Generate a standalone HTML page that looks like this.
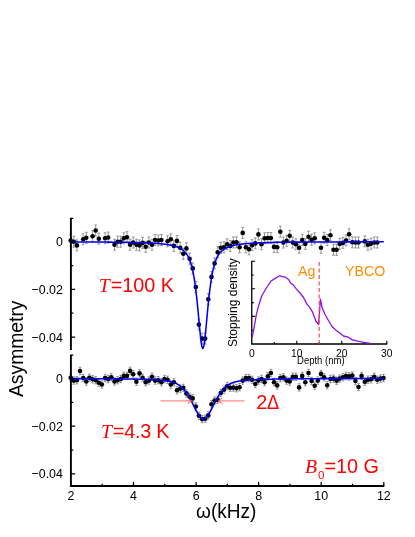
<!DOCTYPE html><html><head><meta charset="utf-8"><title>fig</title><style>
html,body{margin:0;padding:0;background:#fff}
#c{will-change:transform;position:relative;width:415px;height:537px;overflow:hidden;background:#fff;font-family:"Liberation Sans",sans-serif;color:#000}
.t{position:absolute;white-space:nowrap;line-height:1}
.yl{font-size:12.4px;text-align:right;width:44px;left:18.9px;transform:scaleY(1.04)}
.xl{font-size:12.4px;text-align:center;width:40px;transform:scaleY(1.04)}
.il{font-size:10.3px;text-align:center;width:30px}
.r{color:#ff0000;font-size:19.8px;letter-spacing:0px;-webkit-text-stroke:0}
.r i{font-family:"Liberation Serif",serif;font-style:italic;margin-right:1px}
.o{color:#ff8c00;font-size:14.7px;transform-origin:0 50%;transform:scaleX(0.965)}
</style></head><body><div id="c">
<svg width="415" height="537" viewBox="0 0 415 537" style="position:absolute;left:0;top:0">
<rect width="415" height="537" fill="#fff"/>
<g fill="#000">
<path d="M70.7,235.0V246.0M69.2,235.0h2.8M69.2,246.0h2.8M73.8,236.2V247.2M72.4,236.2h2.8M72.4,247.2h2.8M76.9,239.9V250.9M75.5,239.9h2.8M75.5,250.9h2.8M83.2,233.8V244.8M81.8,233.8h2.8M81.8,244.8h2.8M86.3,232.3V243.3M84.9,232.3h2.8M84.9,243.3h2.8M92.6,230.7V241.7M91.2,230.7h2.8M91.2,241.7h2.8M95.7,225.0V236.0M94.3,225.0h2.8M94.3,236.0h2.8M98.8,233.2V244.2M97.4,233.2h2.8M97.4,244.2h2.8M105.1,232.8V243.8M103.7,232.8h2.8M103.7,243.8h2.8M108.2,232.0V243.0M106.8,232.0h2.8M106.8,243.0h2.8M114.5,239.2V250.2M113.1,239.2h2.8M113.1,250.2h2.8M117.6,236.2V247.2M116.2,236.2h2.8M116.2,247.2h2.8M120.7,236.2V247.2M119.3,236.2h2.8M119.3,247.2h2.8M123.8,232.8V243.8M122.4,232.8h2.8M122.4,243.8h2.8M127.0,231.7V242.7M125.6,231.7h2.8M125.6,242.7h2.8M130.1,239.2V250.2M128.7,239.2h2.8M128.7,250.2h2.8M133.2,237.0V248.0M131.8,237.0h2.8M131.8,248.0h2.8M136.4,239.2V250.2M135.0,239.2h2.8M135.0,250.2h2.8M139.5,239.9V250.9M138.1,239.9h2.8M138.1,250.9h2.8M142.6,237.4V248.4M141.2,237.4h2.8M141.2,248.4h2.8M145.7,241.3V252.3M144.3,241.3h2.8M144.3,252.3h2.8M148.9,237.0V248.0M147.5,237.0h2.8M147.5,248.0h2.8M152.0,239.2V250.2M150.6,239.2h2.8M150.6,250.2h2.8M155.1,234.5V245.5M153.7,234.5h2.8M153.7,245.5h2.8M158.3,235.0V246.0M156.9,235.0h2.8M156.9,246.0h2.8M161.4,234.5V245.5M160.0,234.5h2.8M160.0,245.5h2.8M167.6,235.8V246.8M166.2,235.8h2.8M166.2,246.8h2.8M170.8,233.8V244.8M169.4,233.8h2.8M169.4,244.8h2.8M173.9,240.4V251.4M172.5,240.4h2.8M172.5,251.4h2.8M177.0,235.4V246.4M175.6,235.4h2.8M175.6,246.4h2.8M180.2,242.2V253.2M178.8,242.2h2.8M178.8,253.2h2.8M183.3,248.3V259.4M181.9,248.3h2.8M181.9,259.4h2.8M186.4,242.9V253.9M185.0,242.9h2.8M185.0,253.9h2.8M189.6,253.2V264.2M188.2,253.2h2.8M188.2,264.2h2.8M192.7,262.9V273.9M191.3,262.9h2.8M191.3,273.9h2.8M195.8,281.6V292.6M194.4,281.6h2.8M194.4,292.6h2.8M198.9,319.1V330.1M197.5,319.1h2.8M197.5,330.1h2.8M202.1,333.1V344.1M200.7,333.1h2.8M200.7,344.1h2.8M205.2,333.1V344.1M203.8,333.1h2.8M203.8,344.1h2.8M208.3,293.7V304.7M206.9,293.7h2.8M206.9,304.7h2.8M211.5,271.4V282.4M210.1,271.4h2.8M210.1,282.4h2.8M214.6,257.9V268.9M213.2,257.9h2.8M213.2,268.9h2.8M217.7,246.7V257.6M216.3,246.7h2.8M216.3,257.6h2.8M220.8,242.2V253.2M219.4,242.2h2.8M219.4,253.2h2.8M224.0,241.8V252.8M222.6,241.8h2.8M222.6,252.8h2.8M227.1,238.8V249.8M225.7,238.8h2.8M225.7,249.8h2.8M230.2,240.4V251.4M228.8,240.4h2.8M228.8,251.4h2.8M233.4,237.0V248.0M232.0,237.0h2.8M232.0,248.0h2.8M236.5,236.8V247.8M235.1,236.8h2.8M235.1,247.8h2.8M239.6,241.8V252.8M238.2,241.8h2.8M238.2,252.8h2.8M242.7,227.4V238.4M241.3,227.4h2.8M241.3,238.4h2.8M245.9,241.8V252.8M244.5,241.8h2.8M244.5,252.8h2.8M249.0,243.8V254.8M247.6,243.8h2.8M247.6,254.8h2.8M252.1,239.7V250.7M250.7,239.7h2.8M250.7,250.7h2.8M255.3,237.9V248.9M253.9,237.9h2.8M253.9,248.9h2.8M258.4,228.9V239.9M257.0,228.9h2.8M257.0,239.9h2.8M261.5,238.8V249.8M260.1,238.8h2.8M260.1,249.8h2.8M264.6,232.8V243.8M263.2,232.8h2.8M263.2,243.8h2.8M267.8,232.5V243.5M266.4,232.5h2.8M266.4,243.5h2.8M270.9,232.5V243.5M269.5,232.5h2.8M269.5,243.5h2.8M274.0,241.4V252.4M272.6,241.4h2.8M272.6,252.4h2.8M277.2,241.7V252.7M275.8,241.7h2.8M275.8,252.7h2.8M280.3,226.2V237.2M278.9,226.2h2.8M278.9,237.2h2.8M283.4,237.0V248.0M282.0,237.0h2.8M282.0,248.0h2.8M286.6,235.4V246.4M285.2,235.4h2.8M285.2,246.4h2.8M289.7,230.3V241.3M288.3,230.3h2.8M288.3,241.3h2.8M292.8,237.0V248.0M291.4,237.0h2.8M291.4,248.0h2.8M295.9,238.8V249.8M294.5,238.8h2.8M294.5,249.8h2.8M299.1,242.2V253.2M297.7,242.2h2.8M297.7,253.2h2.8M302.2,234.5V245.5M300.8,234.5h2.8M300.8,245.5h2.8M305.3,238.4V249.4M303.9,238.4h2.8M303.9,249.4h2.8M308.5,231.2V242.2M307.1,231.2h2.8M307.1,242.2h2.8M311.6,234.2V245.2M310.2,234.2h2.8M310.2,245.2h2.8M314.7,232.8V243.8M313.3,232.8h2.8M313.3,243.8h2.8M321.0,242.2V253.2M319.6,242.2h2.8M319.6,253.2h2.8M324.1,232.3V243.3M322.7,232.3h2.8M322.7,243.3h2.8M327.2,234.5V245.5M325.8,234.5h2.8M325.8,245.5h2.8M330.4,229.8V240.8M329.0,229.8h2.8M329.0,240.8h2.8M333.5,244.3V255.3M332.1,244.3h2.8M332.1,255.3h2.8M336.6,244.3V255.3M335.2,244.3h2.8M335.2,255.3h2.8M339.7,238.4V249.4M338.3,238.4h2.8M338.3,249.4h2.8M342.9,237.4V248.4M341.5,237.4h2.8M341.5,248.4h2.8M346.0,235.0V246.0M344.6,235.0h2.8M344.6,246.0h2.8M349.1,228.7V239.7M347.7,228.7h2.8M347.7,239.7h2.8M352.3,236.8V247.8M350.9,236.8h2.8M350.9,247.8h2.8M355.4,237.0V248.0M354.0,237.0h2.8M354.0,248.0h2.8M358.5,237.0V248.0M357.1,237.0h2.8M357.1,248.0h2.8M364.8,235.9V246.9M363.4,235.9h2.8M363.4,246.9h2.8M367.9,239.2V250.2M366.5,239.2h2.8M366.5,250.2h2.8M371.0,238.2V249.2M369.6,238.2h2.8M369.6,249.2h2.8M374.2,237.0V248.0M372.8,237.0h2.8M372.8,248.0h2.8M377.3,237.0V248.0M375.9,237.0h2.8M375.9,248.0h2.8" stroke="#666" stroke-width="0.65" fill="none"/>
<circle cx="70.7" cy="240.5" r="2.3"/>
<circle cx="73.8" cy="241.7" r="2.3"/>
<circle cx="76.9" cy="245.4" r="2.3"/>
<circle cx="83.2" cy="239.2" r="2.3"/>
<circle cx="86.3" cy="237.8" r="2.3"/>
<circle cx="92.6" cy="236.2" r="2.3"/>
<circle cx="95.7" cy="230.5" r="2.3"/>
<circle cx="98.8" cy="238.8" r="2.3"/>
<circle cx="105.1" cy="238.3" r="2.3"/>
<circle cx="108.2" cy="237.5" r="2.3"/>
<circle cx="114.5" cy="244.8" r="2.3"/>
<circle cx="117.6" cy="241.8" r="2.3"/>
<circle cx="120.7" cy="241.8" r="2.3"/>
<circle cx="123.8" cy="238.3" r="2.3"/>
<circle cx="127.0" cy="237.2" r="2.3"/>
<circle cx="130.1" cy="244.8" r="2.3"/>
<circle cx="133.2" cy="242.5" r="2.3"/>
<circle cx="136.4" cy="244.8" r="2.3"/>
<circle cx="139.5" cy="245.4" r="2.3"/>
<circle cx="142.6" cy="242.9" r="2.3"/>
<circle cx="145.7" cy="246.8" r="2.3"/>
<circle cx="148.9" cy="242.5" r="2.3"/>
<circle cx="152.0" cy="244.7" r="2.3"/>
<circle cx="155.1" cy="240.0" r="2.3"/>
<circle cx="158.3" cy="240.5" r="2.3"/>
<circle cx="161.4" cy="240.0" r="2.3"/>
<circle cx="167.6" cy="241.2" r="2.3"/>
<circle cx="170.8" cy="239.2" r="2.3"/>
<circle cx="173.9" cy="245.9" r="2.3"/>
<circle cx="177.0" cy="240.9" r="2.3"/>
<circle cx="180.2" cy="247.7" r="2.3"/>
<circle cx="183.3" cy="253.8" r="2.3"/>
<circle cx="186.4" cy="248.4" r="2.3"/>
<circle cx="189.6" cy="258.7" r="2.3"/>
<circle cx="192.7" cy="268.4" r="2.3"/>
<circle cx="195.8" cy="287.1" r="2.3"/>
<circle cx="198.9" cy="324.6" r="2.3"/>
<circle cx="202.1" cy="338.6" r="2.3"/>
<circle cx="205.2" cy="338.6" r="2.3"/>
<circle cx="208.3" cy="299.2" r="2.3"/>
<circle cx="211.5" cy="276.9" r="2.3"/>
<circle cx="214.6" cy="263.4" r="2.3"/>
<circle cx="217.7" cy="252.2" r="2.3"/>
<circle cx="220.8" cy="247.7" r="2.3"/>
<circle cx="224.0" cy="247.3" r="2.3"/>
<circle cx="227.1" cy="244.2" r="2.3"/>
<circle cx="230.2" cy="245.9" r="2.3"/>
<circle cx="233.4" cy="242.5" r="2.3"/>
<circle cx="236.5" cy="242.2" r="2.3"/>
<circle cx="239.6" cy="247.3" r="2.3"/>
<circle cx="242.7" cy="232.9" r="2.3"/>
<circle cx="245.9" cy="247.3" r="2.3"/>
<circle cx="249.0" cy="249.3" r="2.3"/>
<circle cx="252.1" cy="245.2" r="2.3"/>
<circle cx="255.3" cy="243.4" r="2.3"/>
<circle cx="258.4" cy="234.4" r="2.3"/>
<circle cx="261.5" cy="244.2" r="2.3"/>
<circle cx="264.6" cy="238.3" r="2.3"/>
<circle cx="267.8" cy="238.0" r="2.3"/>
<circle cx="270.9" cy="238.0" r="2.3"/>
<circle cx="274.0" cy="246.9" r="2.3"/>
<circle cx="277.2" cy="247.2" r="2.3"/>
<circle cx="280.3" cy="231.7" r="2.3"/>
<circle cx="283.4" cy="242.5" r="2.3"/>
<circle cx="286.6" cy="240.9" r="2.3"/>
<circle cx="289.7" cy="235.8" r="2.3"/>
<circle cx="292.8" cy="242.5" r="2.3"/>
<circle cx="295.9" cy="244.2" r="2.3"/>
<circle cx="299.1" cy="247.7" r="2.3"/>
<circle cx="302.2" cy="240.0" r="2.3"/>
<circle cx="305.3" cy="243.9" r="2.3"/>
<circle cx="308.5" cy="236.7" r="2.3"/>
<circle cx="311.6" cy="239.8" r="2.3"/>
<circle cx="314.7" cy="238.3" r="2.3"/>
<circle cx="321.0" cy="247.7" r="2.3"/>
<circle cx="324.1" cy="237.8" r="2.3"/>
<circle cx="327.2" cy="240.0" r="2.3"/>
<circle cx="330.4" cy="235.3" r="2.3"/>
<circle cx="333.5" cy="249.8" r="2.3"/>
<circle cx="336.6" cy="249.8" r="2.3"/>
<circle cx="339.7" cy="243.9" r="2.3"/>
<circle cx="342.9" cy="242.9" r="2.3"/>
<circle cx="346.0" cy="240.5" r="2.3"/>
<circle cx="349.1" cy="234.2" r="2.3"/>
<circle cx="352.3" cy="242.2" r="2.3"/>
<circle cx="355.4" cy="242.5" r="2.3"/>
<circle cx="358.5" cy="242.5" r="2.3"/>
<circle cx="364.8" cy="241.4" r="2.3"/>
<circle cx="367.9" cy="244.8" r="2.3"/>
<circle cx="371.0" cy="243.8" r="2.3"/>
<circle cx="374.2" cy="242.5" r="2.3"/>
<circle cx="377.3" cy="242.5" r="2.3"/>
<path d="M70.7,374.1V381.4M69.2,374.1h2.8M69.2,381.4h2.8M73.8,376.9V384.2M72.4,376.9h2.8M72.4,384.2h2.8M76.9,376.6V383.9M75.5,376.6h2.8M75.5,383.9h2.8M80.0,367.3V374.7M78.6,367.3h2.8M78.6,374.7h2.8M83.2,374.4V381.8M81.8,374.4h2.8M81.8,381.8h2.8M86.3,377.8V385.2M84.9,377.8h2.8M84.9,385.2h2.8M89.4,374.1V381.4M88.0,374.1h2.8M88.0,381.4h2.8M92.6,375.6V382.9M91.2,375.6h2.8M91.2,382.9h2.8M95.7,376.6V383.9M94.3,376.6h2.8M94.3,383.9h2.8M98.8,379.1V386.4M97.4,379.1h2.8M97.4,386.4h2.8M101.9,380.8V388.2M100.5,380.8h2.8M100.5,388.2h2.8M105.1,374.4V381.8M103.7,374.4h2.8M103.7,381.8h2.8M108.2,375.4V382.8M106.8,375.4h2.8M106.8,382.8h2.8M111.3,373.6V380.9M109.9,373.6h2.8M109.9,380.9h2.8M114.5,377.8V385.2M113.1,377.8h2.8M113.1,385.2h2.8M117.6,376.6V383.9M116.2,376.6h2.8M116.2,383.9h2.8M120.7,375.3V382.7M119.3,375.3h2.8M119.3,382.7h2.8M123.8,372.2V379.6M122.4,372.2h2.8M122.4,379.6h2.8M127.0,372.2V379.6M125.6,372.2h2.8M125.6,379.6h2.8M130.1,367.2V374.6M128.7,367.2h2.8M128.7,374.6h2.8M133.2,370.5V377.9M131.8,370.5h2.8M131.8,377.9h2.8M136.4,378.1V385.4M135.0,378.1h2.8M135.0,385.4h2.8M139.5,369.7V377.1M138.1,369.7h2.8M138.1,377.1h2.8M142.6,374.1V381.4M141.2,374.1h2.8M141.2,381.4h2.8M145.7,378.6V385.9M144.3,378.6h2.8M144.3,385.9h2.8M148.9,376.9V384.2M147.5,376.9h2.8M147.5,384.2h2.8M152.0,373.1V380.4M150.6,373.1h2.8M150.6,380.4h2.8M155.1,376.9V384.2M153.7,376.9h2.8M153.7,384.2h2.8M158.3,376.6V383.9M156.9,376.6h2.8M156.9,383.9h2.8M161.4,378.6V385.9M160.0,378.6h2.8M160.0,385.9h2.8M164.5,375.3V382.7M163.1,375.3h2.8M163.1,382.7h2.8M167.6,376.1V383.4M166.2,376.1h2.8M166.2,383.4h2.8M170.8,380.8V388.2M169.4,380.8h2.8M169.4,388.2h2.8M173.9,378.6V385.9M172.5,378.6h2.8M172.5,385.9h2.8M177.0,386.5V393.9M175.6,386.5h2.8M175.6,393.9h2.8M180.2,385.0V392.4M178.8,385.0h2.8M178.8,392.4h2.8M183.3,384.2V391.6M181.9,384.2h2.8M181.9,391.6h2.8M186.4,389.7V397.1M185.0,389.7h2.8M185.0,397.1h2.8M189.6,393.1V400.4M188.2,393.1h2.8M188.2,400.4h2.8M192.7,394.7V402.1M191.3,394.7h2.8M191.3,402.1h2.8M195.8,402.8V410.2M194.4,402.8h2.8M194.4,410.2h2.8M198.9,412.1V419.4M197.5,412.1h2.8M197.5,419.4h2.8M202.1,415.4V422.8M200.7,415.4h2.8M200.7,422.8h2.8M205.2,415.1V422.4M203.8,415.1h2.8M203.8,422.4h2.8M208.3,411.7V419.1M206.9,411.7h2.8M206.9,419.1h2.8M211.5,400.6V407.9M210.1,400.6h2.8M210.1,407.9h2.8M214.6,396.9V404.2M213.2,396.9h2.8M213.2,404.2h2.8M217.7,396.2V403.6M216.3,396.2h2.8M216.3,403.6h2.8M220.8,389.3V396.7M219.4,389.3h2.8M219.4,396.7h2.8M224.0,386.0V393.4M222.6,386.0h2.8M222.6,393.4h2.8M227.1,382.5V389.9M225.7,382.5h2.8M225.7,389.9h2.8M230.2,384.0V391.4M228.8,384.0h2.8M228.8,391.4h2.8M233.4,383.9V391.2M232.0,383.9h2.8M232.0,391.2h2.8M236.5,384.6V391.9M235.1,384.6h2.8M235.1,391.9h2.8M239.6,383.5V390.9M238.2,383.5h2.8M238.2,390.9h2.8M242.7,376.9V384.2M241.3,376.9h2.8M241.3,384.2h2.8M245.9,374.4V381.8M244.5,374.4h2.8M244.5,381.8h2.8M249.0,374.4V381.8M247.6,374.4h2.8M247.6,381.8h2.8M252.1,376.1V383.4M250.7,376.1h2.8M250.7,383.4h2.8M255.3,380.3V387.7M253.9,380.3h2.8M253.9,387.7h2.8M258.4,376.9V384.2M257.0,376.9h2.8M257.0,384.2h2.8M261.5,375.3V382.7M260.1,375.3h2.8M260.1,382.7h2.8M264.6,378.6V385.9M263.2,378.6h2.8M263.2,385.9h2.8M267.8,372.7V380.1M266.4,372.7h2.8M266.4,380.1h2.8M270.9,369.3V376.7M269.5,369.3h2.8M269.5,376.7h2.8M274.0,378.6V385.9M272.6,378.6h2.8M272.6,385.9h2.8M277.2,381.7V389.1M275.8,381.7h2.8M275.8,389.1h2.8M280.3,374.4V381.8M278.9,374.4h2.8M278.9,381.8h2.8M283.4,373.6V380.9M282.0,373.6h2.8M282.0,380.9h2.8M286.6,376.9V384.2M285.2,376.9h2.8M285.2,384.2h2.8M289.7,377.8V385.2M288.3,377.8h2.8M288.3,385.2h2.8M292.8,373.1V380.4M291.4,373.1h2.8M291.4,380.4h2.8M295.9,373.1V380.4M294.5,373.1h2.8M294.5,380.4h2.8M299.1,383.7V391.1M297.7,383.7h2.8M297.7,391.1h2.8M302.2,372.2V379.6M300.8,372.2h2.8M300.8,379.6h2.8M305.3,378.6V385.9M303.9,378.6h2.8M303.9,385.9h2.8M308.5,369.3V376.7M307.1,369.3h2.8M307.1,376.7h2.8M311.6,377.3V384.7M310.2,377.3h2.8M310.2,384.7h2.8M314.7,382.0V389.4M313.3,382.0h2.8M313.3,389.4h2.8M317.8,376.9V384.2M316.4,376.9h2.8M316.4,384.2h2.8M321.0,370.2V377.6M319.6,370.2h2.8M319.6,377.6h2.8M324.1,373.6V380.9M322.7,373.6h2.8M322.7,380.9h2.8M327.2,381.5V388.9M325.8,381.5h2.8M325.8,388.9h2.8M330.4,375.3V382.7M329.0,375.3h2.8M329.0,382.7h2.8M333.5,374.9V382.2M332.1,374.9h2.8M332.1,382.2h2.8M336.6,377.1V384.4M335.2,377.1h2.8M335.2,384.4h2.8M339.7,374.9V382.2M338.3,374.9h2.8M338.3,382.2h2.8M342.9,373.6V380.9M341.5,373.6h2.8M341.5,380.9h2.8M346.0,372.3V379.7M344.6,372.3h2.8M344.6,379.7h2.8M349.1,372.7V380.1M347.7,372.7h2.8M347.7,380.1h2.8M352.3,371.9V379.2M350.9,371.9h2.8M350.9,379.2h2.8M355.4,377.3V384.7M354.0,377.3h2.8M354.0,384.7h2.8M358.5,383.3V390.7M357.1,383.3h2.8M357.1,390.7h2.8M361.6,372.2V379.6M360.2,372.2h2.8M360.2,379.6h2.8M364.8,378.1V385.4M363.4,378.1h2.8M363.4,385.4h2.8M367.9,376.1V383.4M366.5,376.1h2.8M366.5,383.4h2.8M371.0,375.6V382.9M369.6,375.6h2.8M369.6,382.9h2.8M374.2,373.1V380.4M372.8,373.1h2.8M372.8,380.4h2.8M377.3,376.1V383.4M375.9,376.1h2.8M375.9,383.4h2.8M380.4,374.9V382.2M379.0,374.9h2.8M379.0,382.2h2.8M383.5,374.4V381.8M382.1,374.4h2.8M382.1,381.8h2.8" stroke="#666" stroke-width="0.65" fill="none"/>
<circle cx="70.7" cy="377.8" r="2.3"/>
<circle cx="73.8" cy="380.6" r="2.3"/>
<circle cx="76.9" cy="380.2" r="2.3"/>
<circle cx="80.0" cy="371.0" r="2.3"/>
<circle cx="83.2" cy="378.1" r="2.3"/>
<circle cx="86.3" cy="381.5" r="2.3"/>
<circle cx="89.4" cy="377.8" r="2.3"/>
<circle cx="92.6" cy="379.2" r="2.3"/>
<circle cx="95.7" cy="380.2" r="2.3"/>
<circle cx="98.8" cy="382.8" r="2.3"/>
<circle cx="101.9" cy="384.5" r="2.3"/>
<circle cx="105.1" cy="378.1" r="2.3"/>
<circle cx="108.2" cy="379.1" r="2.3"/>
<circle cx="111.3" cy="377.2" r="2.3"/>
<circle cx="114.5" cy="381.5" r="2.3"/>
<circle cx="117.6" cy="380.2" r="2.3"/>
<circle cx="120.7" cy="379.0" r="2.3"/>
<circle cx="123.8" cy="375.9" r="2.3"/>
<circle cx="127.0" cy="375.9" r="2.3"/>
<circle cx="130.1" cy="370.9" r="2.3"/>
<circle cx="133.2" cy="374.2" r="2.3"/>
<circle cx="136.4" cy="381.8" r="2.3"/>
<circle cx="139.5" cy="373.4" r="2.3"/>
<circle cx="142.6" cy="377.8" r="2.3"/>
<circle cx="145.7" cy="382.2" r="2.3"/>
<circle cx="148.9" cy="380.6" r="2.3"/>
<circle cx="152.0" cy="376.8" r="2.3"/>
<circle cx="155.1" cy="380.6" r="2.3"/>
<circle cx="158.3" cy="380.2" r="2.3"/>
<circle cx="161.4" cy="382.2" r="2.3"/>
<circle cx="164.5" cy="379.0" r="2.3"/>
<circle cx="167.6" cy="379.8" r="2.3"/>
<circle cx="170.8" cy="384.5" r="2.3"/>
<circle cx="173.9" cy="382.2" r="2.3"/>
<circle cx="177.0" cy="390.2" r="2.3"/>
<circle cx="180.2" cy="388.7" r="2.3"/>
<circle cx="183.3" cy="387.9" r="2.3"/>
<circle cx="186.4" cy="393.4" r="2.3"/>
<circle cx="189.6" cy="396.8" r="2.3"/>
<circle cx="192.7" cy="398.4" r="2.3"/>
<circle cx="195.8" cy="406.5" r="2.3"/>
<circle cx="198.9" cy="415.8" r="2.3"/>
<circle cx="202.1" cy="419.1" r="2.3"/>
<circle cx="205.2" cy="418.8" r="2.3"/>
<circle cx="208.3" cy="415.4" r="2.3"/>
<circle cx="211.5" cy="404.2" r="2.3"/>
<circle cx="214.6" cy="400.6" r="2.3"/>
<circle cx="217.7" cy="399.9" r="2.3"/>
<circle cx="220.8" cy="393.0" r="2.3"/>
<circle cx="224.0" cy="389.7" r="2.3"/>
<circle cx="227.1" cy="386.2" r="2.3"/>
<circle cx="230.2" cy="387.7" r="2.3"/>
<circle cx="233.4" cy="387.6" r="2.3"/>
<circle cx="236.5" cy="388.2" r="2.3"/>
<circle cx="239.6" cy="387.2" r="2.3"/>
<circle cx="242.7" cy="380.6" r="2.3"/>
<circle cx="245.9" cy="378.1" r="2.3"/>
<circle cx="249.0" cy="378.1" r="2.3"/>
<circle cx="252.1" cy="379.8" r="2.3"/>
<circle cx="255.3" cy="384.0" r="2.3"/>
<circle cx="258.4" cy="380.6" r="2.3"/>
<circle cx="261.5" cy="379.0" r="2.3"/>
<circle cx="264.6" cy="382.2" r="2.3"/>
<circle cx="267.8" cy="376.4" r="2.3"/>
<circle cx="270.9" cy="373.0" r="2.3"/>
<circle cx="274.0" cy="382.2" r="2.3"/>
<circle cx="277.2" cy="385.4" r="2.3"/>
<circle cx="280.3" cy="378.1" r="2.3"/>
<circle cx="283.4" cy="377.2" r="2.3"/>
<circle cx="286.6" cy="380.6" r="2.3"/>
<circle cx="289.7" cy="381.5" r="2.3"/>
<circle cx="292.8" cy="376.8" r="2.3"/>
<circle cx="295.9" cy="376.8" r="2.3"/>
<circle cx="299.1" cy="387.4" r="2.3"/>
<circle cx="302.2" cy="375.9" r="2.3"/>
<circle cx="305.3" cy="382.2" r="2.3"/>
<circle cx="308.5" cy="373.0" r="2.3"/>
<circle cx="311.6" cy="381.0" r="2.3"/>
<circle cx="314.7" cy="385.7" r="2.3"/>
<circle cx="317.8" cy="380.6" r="2.3"/>
<circle cx="321.0" cy="373.9" r="2.3"/>
<circle cx="324.1" cy="377.2" r="2.3"/>
<circle cx="327.2" cy="385.2" r="2.3"/>
<circle cx="330.4" cy="379.0" r="2.3"/>
<circle cx="333.5" cy="378.6" r="2.3"/>
<circle cx="336.6" cy="380.8" r="2.3"/>
<circle cx="339.7" cy="378.6" r="2.3"/>
<circle cx="342.9" cy="377.2" r="2.3"/>
<circle cx="346.0" cy="376.0" r="2.3"/>
<circle cx="349.1" cy="376.4" r="2.3"/>
<circle cx="352.3" cy="375.6" r="2.3"/>
<circle cx="355.4" cy="381.0" r="2.3"/>
<circle cx="358.5" cy="387.0" r="2.3"/>
<circle cx="361.6" cy="375.9" r="2.3"/>
<circle cx="364.8" cy="381.8" r="2.3"/>
<circle cx="367.9" cy="379.8" r="2.3"/>
<circle cx="371.0" cy="379.2" r="2.3"/>
<circle cx="374.2" cy="376.8" r="2.3"/>
<circle cx="377.3" cy="379.8" r="2.3"/>
<circle cx="380.4" cy="378.6" r="2.3"/>
<circle cx="383.5" cy="378.1" r="2.3"/>
</g>
<path d="M70.8,241.91 L71.3,241.91 L71.8,241.92 L72.3,241.92 L72.8,241.92 L73.3,241.92 L73.8,241.92 L74.3,241.92 L74.8,241.93 L75.3,241.93 L75.8,241.93 L76.3,241.93 L76.8,241.93 L77.3,241.94 L77.8,241.94 L78.3,241.94 L78.8,241.94 L79.3,241.94 L79.8,241.94 L80.3,241.95 L80.8,241.95 L81.3,241.95 L81.8,241.95 L82.3,241.96 L82.8,241.96 L83.3,241.96 L83.8,241.96 L84.3,241.96 L84.8,241.97 L85.3,241.97 L85.8,241.97 L86.3,241.97 L86.8,241.98 L87.3,241.98 L87.8,241.98 L88.3,241.98 L88.8,241.98 L89.3,241.99 L89.8,241.99 L90.3,241.99 L90.8,242.00 L91.3,242.00 L91.8,242.00 L92.3,242.00 L92.8,242.01 L93.3,242.01 L93.8,242.01 L94.3,242.01 L94.8,242.02 L95.3,242.02 L95.8,242.02 L96.3,242.03 L96.8,242.03 L97.3,242.03 L97.8,242.04 L98.3,242.04 L98.8,242.04 L99.3,242.05 L99.8,242.05 L100.3,242.05 L100.8,242.06 L101.3,242.06 L101.8,242.06 L102.3,242.07 L102.8,242.07 L103.3,242.07 L103.8,242.08 L104.3,242.08 L104.8,242.09 L105.3,242.09 L105.8,242.09 L106.3,242.10 L106.8,242.10 L107.3,242.11 L107.8,242.11 L108.3,242.11 L108.8,242.12 L109.3,242.12 L109.8,242.13 L110.3,242.13 L110.8,242.14 L111.3,242.14 L111.8,242.15 L112.3,242.15 L112.8,242.16 L113.3,242.16 L113.8,242.17 L114.3,242.17 L114.8,242.18 L115.3,242.18 L115.8,242.19 L116.3,242.19 L116.8,242.20 L117.3,242.21 L117.8,242.21 L118.3,242.22 L118.8,242.22 L119.3,242.23 L119.8,242.24 L120.3,242.24 L120.8,242.25 L121.3,242.26 L121.8,242.26 L122.3,242.27 L122.8,242.28 L123.3,242.28 L123.8,242.29 L124.3,242.30 L124.8,242.31 L125.3,242.31 L125.8,242.32 L126.3,242.33 L126.8,242.34 L127.3,242.35 L127.8,242.36 L128.3,242.36 L128.8,242.37 L129.3,242.38 L129.8,242.39 L130.3,242.40 L130.8,242.41 L131.3,242.42 L131.8,242.43 L132.3,242.44 L132.8,242.45 L133.3,242.46 L133.8,242.47 L134.3,242.48 L134.8,242.50 L135.3,242.51 L135.8,242.52 L136.3,242.53 L136.8,242.54 L137.3,242.56 L137.8,242.57 L138.3,242.58 L138.8,242.60 L139.3,242.61 L139.8,242.63 L140.3,242.64 L140.8,242.66 L141.3,242.67 L141.8,242.69 L142.3,242.70 L142.8,242.72 L143.3,242.74 L143.8,242.75 L144.3,242.77 L144.8,242.79 L145.3,242.81 L145.8,242.83 L146.3,242.85 L146.8,242.87 L147.3,242.89 L147.8,242.91 L148.3,242.93 L148.8,242.96 L149.3,242.98 L149.8,243.00 L150.3,243.03 L150.8,243.05 L151.3,243.08 L151.8,243.11 L152.3,243.13 L152.8,243.16 L153.3,243.19 L153.8,243.22 L154.3,243.25 L154.8,243.28 L155.3,243.32 L155.8,243.35 L156.3,243.39 L156.8,243.42 L157.3,243.46 L157.8,243.50 L158.3,243.54 L158.8,243.58 L159.3,243.62 L159.8,243.67 L160.3,243.71 L160.8,243.76 L161.3,243.81 L161.8,243.86 L162.3,243.91 L162.8,243.96 L163.3,244.02 L163.8,244.08 L164.3,244.14 L164.8,244.20 L165.3,244.27 L165.8,244.33 L166.3,244.41 L166.8,244.48 L167.3,244.55 L167.8,244.63 L168.3,244.72 L168.8,244.80 L169.3,244.89 L169.8,244.99 L170.3,245.09 L170.8,245.19 L171.3,245.30 L171.8,245.41 L172.3,245.52 L172.8,245.65 L173.3,245.78 L173.8,245.91 L174.3,246.05 L174.8,246.20 L175.3,246.36 L175.8,246.52 L176.3,246.70 L176.8,246.88 L177.3,247.07 L177.8,247.28 L178.3,247.49 L178.8,247.72 L179.3,247.96 L179.8,248.22 L180.3,248.49 L180.8,248.78 L181.3,249.09 L181.8,249.42 L182.3,249.77 L182.8,250.14 L183.3,250.54 L183.8,250.98 L184.3,251.44 L184.8,251.94 L185.3,252.49 L185.8,253.08 L186.3,253.72 L186.8,254.42 L187.3,255.18 L187.8,256.02 L188.3,256.94 L188.8,257.95 L189.3,259.07 L189.8,260.30 L190.3,261.67 L190.8,263.18 L191.3,264.85 L191.8,266.69 L192.3,268.74 L192.8,270.99 L193.3,273.48 L193.8,276.21 L194.3,279.21 L194.8,282.50 L195.3,286.08 L195.8,289.97 L196.3,294.16 L196.8,298.66 L197.3,303.45 L197.8,308.49 L198.3,313.74 L198.8,319.12 L199.3,324.52 L199.8,329.80 L200.3,334.78 L200.8,339.28 L201.3,343.08 L201.8,345.97 L202.3,347.78 L202.8,348.40 L203.3,347.78 L203.8,345.97 L204.3,343.08 L204.8,339.28 L205.3,334.78 L205.8,329.80 L206.3,324.52 L206.8,319.12 L207.3,313.74 L207.8,308.49 L208.3,303.45 L208.8,298.66 L209.3,294.16 L209.8,289.97 L210.3,286.08 L210.8,282.50 L211.3,279.21 L211.8,276.21 L212.3,273.48 L212.8,270.99 L213.3,268.74 L213.8,266.69 L214.3,264.85 L214.8,263.18 L215.3,261.67 L215.8,260.30 L216.3,259.07 L216.8,257.95 L217.3,256.94 L217.8,256.02 L218.3,255.18 L218.8,254.42 L219.3,253.72 L219.8,253.08 L220.3,252.49 L220.8,251.94 L221.3,251.44 L221.8,250.98 L222.3,250.54 L222.8,250.14 L223.3,249.77 L223.8,249.42 L224.3,249.09 L224.8,248.78 L225.3,248.49 L225.8,248.22 L226.3,247.96 L226.8,247.72 L227.3,247.49 L227.8,247.28 L228.3,247.07 L228.8,246.88 L229.3,246.70 L229.8,246.52 L230.3,246.36 L230.8,246.20 L231.3,246.05 L231.8,245.91 L232.3,245.78 L232.8,245.65 L233.3,245.52 L233.8,245.41 L234.3,245.30 L234.8,245.19 L235.3,245.09 L235.8,244.99 L236.3,244.89 L236.8,244.80 L237.3,244.72 L237.8,244.63 L238.3,244.55 L238.8,244.48 L239.3,244.41 L239.8,244.33 L240.3,244.27 L240.8,244.20 L241.3,244.14 L241.8,244.08 L242.3,244.02 L242.8,243.96 L243.3,243.91 L243.8,243.86 L244.3,243.81 L244.8,243.76 L245.3,243.71 L245.8,243.67 L246.3,243.62 L246.8,243.58 L247.3,243.54 L247.8,243.50 L248.3,243.46 L248.8,243.42 L249.3,243.39 L249.8,243.35 L250.3,243.32 L250.8,243.28 L251.3,243.25 L251.8,243.22 L252.3,243.19 L252.8,243.16 L253.3,243.13 L253.8,243.11 L254.3,243.08 L254.8,243.05 L255.3,243.03 L255.8,243.00 L256.3,242.98 L256.8,242.96 L257.3,242.93 L257.8,242.91 L258.3,242.89 L258.8,242.87 L259.3,242.85 L259.8,242.83 L260.3,242.81 L260.8,242.79 L261.3,242.77 L261.8,242.75 L262.3,242.74 L262.8,242.72 L263.3,242.70 L263.8,242.69 L264.3,242.67 L264.8,242.66 L265.3,242.64 L265.8,242.63 L266.3,242.61 L266.8,242.60 L267.3,242.58 L267.8,242.57 L268.3,242.56 L268.8,242.54 L269.3,242.53 L269.8,242.52 L270.3,242.51 L270.8,242.50 L271.3,242.48 L271.8,242.47 L272.3,242.46 L272.8,242.45 L273.3,242.44 L273.8,242.43 L274.3,242.42 L274.8,242.41 L275.3,242.40 L275.8,242.39 L276.3,242.38 L276.8,242.37 L277.3,242.36 L277.8,242.36 L278.3,242.35 L278.8,242.34 L279.3,242.33 L279.8,242.32 L280.3,242.31 L280.8,242.31 L281.3,242.30 L281.8,242.29 L282.3,242.28 L282.8,242.28 L283.3,242.27 L283.8,242.26 L284.3,242.26 L284.8,242.25 L285.3,242.24 L285.8,242.24 L286.3,242.23 L286.8,242.22 L287.3,242.22 L287.8,242.21 L288.3,242.21 L288.8,242.20 L289.3,242.19 L289.8,242.19 L290.3,242.18 L290.8,242.18 L291.3,242.17 L291.8,242.17 L292.3,242.16 L292.8,242.16 L293.3,242.15 L293.8,242.15 L294.3,242.14 L294.8,242.14 L295.3,242.13 L295.8,242.13 L296.3,242.12 L296.8,242.12 L297.3,242.11 L297.8,242.11 L298.3,242.11 L298.8,242.10 L299.3,242.10 L299.8,242.09 L300.3,242.09 L300.8,242.09 L301.3,242.08 L301.8,242.08 L302.3,242.07 L302.8,242.07 L303.3,242.07 L303.8,242.06 L304.3,242.06 L304.8,242.06 L305.3,242.05 L305.8,242.05 L306.3,242.05 L306.8,242.04 L307.3,242.04 L307.8,242.04 L308.3,242.03 L308.8,242.03 L309.3,242.03 L309.8,242.02 L310.3,242.02 L310.8,242.02 L311.3,242.01 L311.8,242.01 L312.3,242.01 L312.8,242.01 L313.3,242.00 L313.8,242.00 L314.3,242.00 L314.8,242.00 L315.3,241.99 L315.8,241.99 L316.3,241.99 L316.8,241.98 L317.3,241.98 L317.8,241.98 L318.3,241.98 L318.8,241.98 L319.3,241.97 L319.8,241.97 L320.3,241.97 L320.8,241.97 L321.3,241.96 L321.8,241.96 L322.3,241.96 L322.8,241.96 L323.3,241.96 L323.8,241.95 L324.3,241.95 L324.8,241.95 L325.3,241.95 L325.8,241.94 L326.3,241.94 L326.8,241.94 L327.3,241.94 L327.8,241.94 L328.3,241.94 L328.8,241.93 L329.3,241.93 L329.8,241.93 L330.3,241.93 L330.8,241.93 L331.3,241.92 L331.8,241.92 L332.3,241.92 L332.8,241.92 L333.3,241.92 L333.8,241.92 L334.3,241.91 L334.8,241.91 L335.3,241.91 L335.8,241.91 L336.3,241.91 L336.8,241.91 L337.3,241.90 L337.8,241.90 L338.3,241.90 L338.8,241.90 L339.3,241.90 L339.8,241.90 L340.3,241.90 L340.8,241.89 L341.3,241.89 L341.8,241.89 L342.3,241.89 L342.8,241.89 L343.3,241.89 L343.8,241.89 L344.3,241.89 L344.8,241.88 L345.3,241.88 L345.8,241.88 L346.3,241.88 L346.8,241.88 L347.3,241.88 L347.8,241.88 L348.3,241.88 L348.8,241.87 L349.3,241.87 L349.8,241.87 L350.3,241.87 L350.8,241.87 L351.3,241.87 L351.8,241.87 L352.3,241.87 L352.8,241.86 L353.3,241.86 L353.8,241.86 L354.3,241.86 L354.8,241.86 L355.3,241.86 L355.8,241.86 L356.3,241.86 L356.8,241.86 L357.3,241.86 L357.8,241.85 L358.3,241.85 L358.8,241.85 L359.3,241.85 L359.8,241.85 L360.3,241.85 L360.8,241.85 L361.3,241.85 L361.8,241.85 L362.3,241.85 L362.8,241.84 L363.3,241.84 L363.8,241.84 L364.3,241.84 L364.8,241.84 L365.3,241.84 L365.8,241.84 L366.3,241.84 L366.8,241.84 L367.3,241.84 L367.8,241.84 L368.3,241.84 L368.8,241.83 L369.3,241.83 L369.8,241.83 L370.3,241.83 L370.8,241.83 L371.3,241.83 L371.8,241.83 L372.3,241.83 L372.8,241.83 L373.3,241.83 L373.8,241.83 L374.3,241.83 L374.8,241.83 L375.3,241.82 L375.8,241.82 L376.3,241.82 L376.8,241.82 L377.3,241.82 L377.8,241.82 L378.3,241.82 L378.8,241.82 L379.3,241.82 L379.8,241.82 L380.3,241.82 L380.8,241.82 L381.3,241.82 L381.8,241.82 L382.3,241.82 L382.8,241.81 L383.3,241.81 L383.8,241.81" stroke="#0000f0" stroke-width="1.55" fill="none" stroke-linejoin="round"/>
<path d="M70.8,378.60 L71.3,378.61 L71.8,378.61 L72.3,378.61 L72.8,378.61 L73.3,378.61 L73.8,378.61 L74.3,378.62 L74.8,378.62 L75.3,378.62 L75.8,378.62 L76.3,378.62 L76.8,378.62 L77.3,378.63 L77.8,378.63 L78.3,378.63 L78.8,378.63 L79.3,378.63 L79.8,378.64 L80.3,378.64 L80.8,378.64 L81.3,378.64 L81.8,378.64 L82.3,378.65 L82.8,378.65 L83.3,378.65 L83.8,378.65 L84.3,378.65 L84.8,378.66 L85.3,378.66 L85.8,378.66 L86.3,378.66 L86.8,378.66 L87.3,378.67 L87.8,378.67 L88.3,378.67 L88.8,378.67 L89.3,378.68 L89.8,378.68 L90.3,378.68 L90.8,378.68 L91.3,378.69 L91.8,378.69 L92.3,378.69 L92.8,378.69 L93.3,378.70 L93.8,378.70 L94.3,378.70 L94.8,378.70 L95.3,378.71 L95.8,378.71 L96.3,378.71 L96.8,378.72 L97.3,378.72 L97.8,378.72 L98.3,378.72 L98.8,378.73 L99.3,378.73 L99.8,378.73 L100.3,378.74 L100.8,378.74 L101.3,378.74 L101.8,378.75 L102.3,378.75 L102.8,378.75 L103.3,378.76 L103.8,378.76 L104.3,378.76 L104.8,378.77 L105.3,378.77 L105.8,378.77 L106.3,378.78 L106.8,378.78 L107.3,378.79 L107.8,378.79 L108.3,378.79 L108.8,378.80 L109.3,378.80 L109.8,378.81 L110.3,378.81 L110.8,378.82 L111.3,378.82 L111.8,378.82 L112.3,378.83 L112.8,378.83 L113.3,378.84 L113.8,378.84 L114.3,378.85 L114.8,378.85 L115.3,378.86 L115.8,378.86 L116.3,378.87 L116.8,378.87 L117.3,378.88 L117.8,378.88 L118.3,378.89 L118.8,378.90 L119.3,378.90 L119.8,378.91 L120.3,378.91 L120.8,378.92 L121.3,378.93 L121.8,378.93 L122.3,378.94 L122.8,378.94 L123.3,378.95 L123.8,378.96 L124.3,378.96 L124.8,378.97 L125.3,378.98 L125.8,378.99 L126.3,378.99 L126.8,379.00 L127.3,379.01 L127.8,379.02 L128.3,379.02 L128.8,379.03 L129.3,379.04 L129.8,379.05 L130.3,379.06 L130.8,379.07 L131.3,379.08 L131.8,379.09 L132.3,379.09 L132.8,379.10 L133.3,379.11 L133.8,379.12 L134.3,379.13 L134.8,379.14 L135.3,379.15 L135.8,379.17 L136.3,379.18 L136.8,379.19 L137.3,379.20 L137.8,379.21 L138.3,379.22 L138.8,379.23 L139.3,379.25 L139.8,379.26 L140.3,379.27 L140.8,379.29 L141.3,379.30 L141.8,379.31 L142.3,379.33 L142.8,379.34 L143.3,379.36 L143.8,379.37 L144.3,379.39 L144.8,379.41 L145.3,379.42 L145.8,379.44 L146.3,379.46 L146.8,379.47 L147.3,379.49 L147.8,379.51 L148.3,379.53 L148.8,379.55 L149.3,379.57 L149.8,379.59 L150.3,379.61 L150.8,379.63 L151.3,379.66 L151.8,379.68 L152.3,379.70 L152.8,379.73 L153.3,379.75 L153.8,379.78 L154.3,379.80 L154.8,379.83 L155.3,379.86 L155.8,379.89 L156.3,379.92 L156.8,379.95 L157.3,379.98 L157.8,380.01 L158.3,380.05 L158.8,380.08 L159.3,380.12 L159.8,380.16 L160.3,380.20 L160.8,380.24 L161.3,380.28 L161.8,380.33 L162.3,380.37 L162.8,380.42 L163.3,380.47 L163.8,380.52 L164.3,380.58 L164.8,380.64 L165.3,380.70 L165.8,380.76 L166.3,380.83 L166.8,380.90 L167.3,380.98 L167.8,381.06 L168.3,381.14 L168.8,381.23 L169.3,381.33 L169.8,381.43 L170.3,381.54 L170.8,381.65 L171.3,381.77 L171.8,381.90 L172.3,382.04 L172.8,382.19 L173.3,382.35 L173.8,382.52 L174.3,382.69 L174.8,382.89 L175.3,383.09 L175.8,383.31 L176.3,383.54 L176.8,383.79 L177.3,384.06 L177.8,384.34 L178.3,384.64 L178.8,384.96 L179.3,385.30 L179.8,385.66 L180.3,386.04 L180.8,386.44 L181.3,386.87 L181.8,387.32 L182.3,387.80 L182.8,388.30 L183.3,388.83 L183.8,389.38 L184.3,389.96 L184.8,390.57 L185.3,391.21 L185.8,391.88 L186.3,392.57 L186.8,393.29 L187.3,394.04 L187.8,394.82 L188.3,395.62 L188.8,396.45 L189.3,397.31 L189.8,398.19 L190.3,399.09 L190.8,400.01 L191.3,400.95 L191.8,401.91 L192.3,402.88 L192.8,403.86 L193.3,404.86 L193.8,405.85 L194.3,406.85 L194.8,407.85 L195.3,408.84 L195.8,409.82 L196.3,410.78 L196.8,411.72 L197.3,412.63 L197.8,413.50 L198.3,414.34 L198.8,415.12 L199.3,415.85 L199.8,416.52 L200.3,417.12 L200.8,417.65 L201.3,418.09 L201.8,418.45 L202.3,418.73 L202.8,418.91 L203.3,418.99 L203.8,418.98 L204.3,418.88 L204.8,418.68 L205.3,418.39 L205.8,418.01 L206.3,417.55 L206.8,417.01 L207.3,416.39 L207.8,415.71 L208.3,414.97 L208.8,414.17 L209.3,413.33 L209.8,412.45 L210.3,411.53 L210.8,410.59 L211.3,409.63 L211.8,408.64 L212.3,407.65 L212.8,406.65 L213.3,405.65 L213.8,404.66 L214.3,403.67 L214.8,402.68 L215.3,401.71 L215.8,400.76 L216.3,399.82 L216.8,398.90 L217.3,398.01 L217.8,397.13 L218.3,396.28 L218.8,395.46 L219.3,394.66 L219.8,393.89 L220.3,393.15 L220.8,392.43 L221.3,391.74 L221.8,391.08 L222.3,390.45 L222.8,389.85 L223.3,389.27 L223.8,388.72 L224.3,388.20 L224.8,387.70 L225.3,387.23 L225.8,386.78 L226.3,386.36 L226.8,385.96 L227.3,385.58 L227.8,385.23 L228.3,384.89 L228.8,384.58 L229.3,384.28 L229.8,384.00 L230.3,383.74 L230.8,383.50 L231.3,383.27 L231.8,383.05 L232.3,382.85 L232.8,382.66 L233.3,382.48 L233.8,382.31 L234.3,382.16 L234.8,382.01 L235.3,381.88 L235.8,381.75 L236.3,381.63 L236.8,381.51 L237.3,381.41 L237.8,381.31 L238.3,381.21 L238.8,381.12 L239.3,381.04 L239.8,380.96 L240.3,380.89 L240.8,380.82 L241.3,380.75 L241.8,380.69 L242.3,380.63 L242.8,380.57 L243.3,380.51 L243.8,380.46 L244.3,380.41 L244.8,380.36 L245.3,380.32 L245.8,380.27 L246.3,380.23 L246.8,380.19 L247.3,380.15 L247.8,380.11 L248.3,380.08 L248.8,380.04 L249.3,380.01 L249.8,379.97 L250.3,379.94 L250.8,379.91 L251.3,379.88 L251.8,379.85 L252.3,379.83 L252.8,379.80 L253.3,379.77 L253.8,379.75 L254.3,379.72 L254.8,379.70 L255.3,379.67 L255.8,379.65 L256.3,379.63 L256.8,379.61 L257.3,379.59 L257.8,379.57 L258.3,379.55 L258.8,379.53 L259.3,379.51 L259.8,379.49 L260.3,379.47 L260.8,379.45 L261.3,379.44 L261.8,379.42 L262.3,379.40 L262.8,379.39 L263.3,379.37 L263.8,379.36 L264.3,379.34 L264.8,379.33 L265.3,379.31 L265.8,379.30 L266.3,379.28 L266.8,379.27 L267.3,379.26 L267.8,379.24 L268.3,379.23 L268.8,379.22 L269.3,379.21 L269.8,379.20 L270.3,379.19 L270.8,379.17 L271.3,379.16 L271.8,379.15 L272.3,379.14 L272.8,379.13 L273.3,379.12 L273.8,379.11 L274.3,379.10 L274.8,379.09 L275.3,379.08 L275.8,379.07 L276.3,379.07 L276.8,379.06 L277.3,379.05 L277.8,379.04 L278.3,379.03 L278.8,379.02 L279.3,379.02 L279.8,379.01 L280.3,379.00 L280.8,378.99 L281.3,378.98 L281.8,378.98 L282.3,378.97 L282.8,378.96 L283.3,378.96 L283.8,378.95 L284.3,378.94 L284.8,378.94 L285.3,378.93 L285.8,378.92 L286.3,378.92 L286.8,378.91 L287.3,378.91 L287.8,378.90 L288.3,378.89 L288.8,378.89 L289.3,378.88 L289.8,378.88 L290.3,378.87 L290.8,378.87 L291.3,378.86 L291.8,378.86 L292.3,378.85 L292.8,378.85 L293.3,378.84 L293.8,378.84 L294.3,378.83 L294.8,378.83 L295.3,378.82 L295.8,378.82 L296.3,378.81 L296.8,378.81 L297.3,378.81 L297.8,378.80 L298.3,378.80 L298.8,378.79 L299.3,378.79 L299.8,378.79 L300.3,378.78 L300.8,378.78 L301.3,378.77 L301.8,378.77 L302.3,378.77 L302.8,378.76 L303.3,378.76 L303.8,378.76 L304.3,378.75 L304.8,378.75 L305.3,378.75 L305.8,378.74 L306.3,378.74 L306.8,378.74 L307.3,378.73 L307.8,378.73 L308.3,378.73 L308.8,378.72 L309.3,378.72 L309.8,378.72 L310.3,378.71 L310.8,378.71 L311.3,378.71 L311.8,378.71 L312.3,378.70 L312.8,378.70 L313.3,378.70 L313.8,378.70 L314.3,378.69 L314.8,378.69 L315.3,378.69 L315.8,378.68 L316.3,378.68 L316.8,378.68 L317.3,378.68 L317.8,378.68 L318.3,378.67 L318.8,378.67 L319.3,378.67 L319.8,378.67 L320.3,378.66 L320.8,378.66 L321.3,378.66 L321.8,378.66 L322.3,378.66 L322.8,378.65 L323.3,378.65 L323.8,378.65 L324.3,378.65 L324.8,378.64 L325.3,378.64 L325.8,378.64 L326.3,378.64 L326.8,378.64 L327.3,378.64 L327.8,378.63 L328.3,378.63 L328.8,378.63 L329.3,378.63 L329.8,378.63 L330.3,378.62 L330.8,378.62 L331.3,378.62 L331.8,378.62 L332.3,378.62 L332.8,378.62 L333.3,378.61 L333.8,378.61 L334.3,378.61 L334.8,378.61 L335.3,378.61 L335.8,378.61 L336.3,378.60 L336.8,378.60 L337.3,378.60 L337.8,378.60 L338.3,378.60 L338.8,378.60 L339.3,378.60 L339.8,378.59 L340.3,378.59 L340.8,378.59 L341.3,378.59 L341.8,378.59 L342.3,378.59 L342.8,378.59 L343.3,378.58 L343.8,378.58 L344.3,378.58 L344.8,378.58 L345.3,378.58 L345.8,378.58 L346.3,378.58 L346.8,378.58 L347.3,378.57 L347.8,378.57 L348.3,378.57 L348.8,378.57 L349.3,378.57 L349.8,378.57 L350.3,378.57 L350.8,378.57 L351.3,378.57 L351.8,378.56 L352.3,378.56 L352.8,378.56 L353.3,378.56 L353.8,378.56 L354.3,378.56 L354.8,378.56 L355.3,378.56 L355.8,378.56 L356.3,378.55 L356.8,378.55 L357.3,378.55 L357.8,378.55 L358.3,378.55 L358.8,378.55 L359.3,378.55 L359.8,378.55 L360.3,378.55 L360.8,378.55 L361.3,378.55 L361.8,378.54 L362.3,378.54 L362.8,378.54 L363.3,378.54 L363.8,378.54 L364.3,378.54 L364.8,378.54 L365.3,378.54 L365.8,378.54 L366.3,378.54 L366.8,378.54 L367.3,378.53 L367.8,378.53 L368.3,378.53 L368.8,378.53 L369.3,378.53 L369.8,378.53 L370.3,378.53 L370.8,378.53 L371.3,378.53 L371.8,378.53 L372.3,378.53 L372.8,378.53 L373.3,378.53 L373.8,378.52 L374.3,378.52 L374.8,378.52 L375.3,378.52 L375.8,378.52 L376.3,378.52 L376.8,378.52 L377.3,378.52 L377.8,378.52 L378.3,378.52 L378.8,378.52 L379.3,378.52 L379.8,378.52 L380.3,378.52 L380.8,378.52 L381.3,378.51 L381.8,378.51 L382.3,378.51 L382.8,378.51 L383.3,378.51 L383.8,378.51" stroke="#0000f0" stroke-width="1.55" fill="none" stroke-linejoin="round"/>
<g stroke="#000" fill="none">
<path d="M70.9,217.8V350" stroke-width="1.9"/>
<path d="M70.9,354.7V486.9" stroke-width="1.9"/>
<path d="M70.0,486.0H384.3" stroke-width="1.9"/>
<path d="M70.9,218.3h2.4M70.9,241.7h4.2M70.9,265.6h2.4M70.9,289.4h4.2M70.9,313.2h2.4M70.9,337.1h4.2M70.9,355.1h2.4M70.9,378.5h4.2M70.9,402.4h2.4M70.9,426.2h4.2M70.9,450.1h2.4M70.9,473.9h4.2M70.9,486.0v-4.0M102.2,486.0v-2.2M133.5,486.0v-4.0M164.8,486.0v-2.2M196.1,486.0v-4.0M227.3,486.0v-2.2M258.6,486.0v-4.0M289.9,486.0v-2.2M321.2,486.0v-4.0M352.5,486.0v-2.2M383.8,486.0v-4.0" stroke-width="1.25"/>
</g>
<g fill="none">
<path d="M160.5,400.9H191.5M244.6,400.9H218.3" stroke="#ff8c8c" stroke-width="1.2"/>
<path d="M187.6,398.2L192,400.9L187.6,403.6M222.3,398.2L217.9,400.9L222.3,403.6" stroke="#ff3030" stroke-width="0.8"/>
</g>
<g stroke="#000" fill="none">
<path d="M251.75,260.7V344.0H387.3" stroke-width="1.3"/>
<path d="M251.8,330.2h2.0M251.8,316.4h3.3M251.8,302.6h2.0M251.8,288.8h3.3M251.8,275.0h2.0M251.8,261.2h3.3M274.2,344.0v-2.0M296.8,344.0v-3.3M319.2,344.0v-2.0M341.8,344.0v-3.3M364.2,344.0v-2.0M386.8,344.0v-3.3" stroke-width="1.1"/>
</g>
<path d="M252.2,337.5 L254.0,328.2 L256.3,314.8 L258.9,304.7 L261.8,295.8 L266.3,288.0 L270.8,281.3 L275.2,278.4 L279.7,275.7 L282.6,276.8 L284.8,276.8 L288.6,279.5 L290.9,283.5 L293.1,284.6 L296.5,289.1 L300.0,293.0 L303.5,297.5 L307.1,304.4 L309.7,307.4 L312.4,311.8 L315.9,321.2 L318.5,324.2 L319.4,314.0 L320.4,299.2 L322.1,307.6 L324.8,314.0 L328.3,320.3 L331.9,326.5 L336.1,330.2 L339.8,333.1 L343.4,336.0 L348.2,337.2 L352.5,339.9 L357.8,341.1 L363.9,342.3 L370.6,343.3" stroke="#9410dc" stroke-width="1.3" fill="none" stroke-linejoin="round"/>
<path d="M319.2,344.0V261.2" stroke="#ff4040" stroke-width="1.1" stroke-dasharray="4.1 2.4" fill="none"/>
</svg>
<div class="t yl" style="top:236.1px">0</div>
<div class="t yl" style="top:283.8px">−0.02</div>
<div class="t yl" style="top:331.5px">−0.04</div>
<div class="t yl" style="top:372.9px">0</div>
<div class="t yl" style="top:420.6px">−0.02</div>
<div class="t yl" style="top:468.3px">−0.04</div>
<div class="t xl" style="left:50.9px;top:490.4px">2</div>
<div class="t xl" style="left:113.5px;top:490.4px">4</div>
<div class="t xl" style="left:176.1px;top:490.4px">6</div>
<div class="t xl" style="left:238.6px;top:490.4px">8</div>
<div class="t xl" style="left:301.2px;top:490.4px">10</div>
<div class="t xl" style="left:363.8px;top:490.4px">12</div>
<div class="t il" style="left:236.8px;top:348.8px">0</div>
<div class="t il" style="left:281.8px;top:348.8px">10</div>
<div class="t il" style="left:326.8px;top:348.8px">20</div>
<div class="t il" style="left:371.8px;top:348.8px">30</div>
<div class="t" style="font-size:10.3px;left:296.6px;top:355.7px;transform-origin:0 0;transform:scaleX(0.925)">Depth (nm)</div>
<div class="t" style="font-size:12px;left:227px;top:347px;transform-origin:0 0;transform:rotate(-90deg)">Stopping density</div>
<div class="t" style="font-size:19.6px;left:7.2px;top:397.3px;transform-origin:0 0;transform:rotate(-90deg) scaleX(0.985)">Asymmetry</div>
<div class="t" style="font-size:20.3px;left:196.3px;top:500.5px;transform-origin:0 0;transform:scaleX(0.94)">ω(kHz)</div>
<div class="t r" style="left:98.8px;top:275.6px"><i>T</i>=100 K</div>
<div class="t r" style="left:101px;top:422px;letter-spacing:-0.2px"><i>T</i>=4.3 K</div>
<div class="t r" style="left:256.3px;top:392.7px">2<span style="display:inline-block;transform-origin:0 50%;transform:scaleX(0.92)">Δ</span></div>
<div class="t r" style="left:305.0px;top:457.3px;letter-spacing:0px"><i>B</i><span style="font-size:11.5px;position:relative;top:5.5px">0</span>=10 G</div>
<div class="t o" style="left:297.6px;top:263.8px">Ag</div>
<div class="t o" style="left:345px;top:263.8px">YBCO</div>
</div></body></html>
